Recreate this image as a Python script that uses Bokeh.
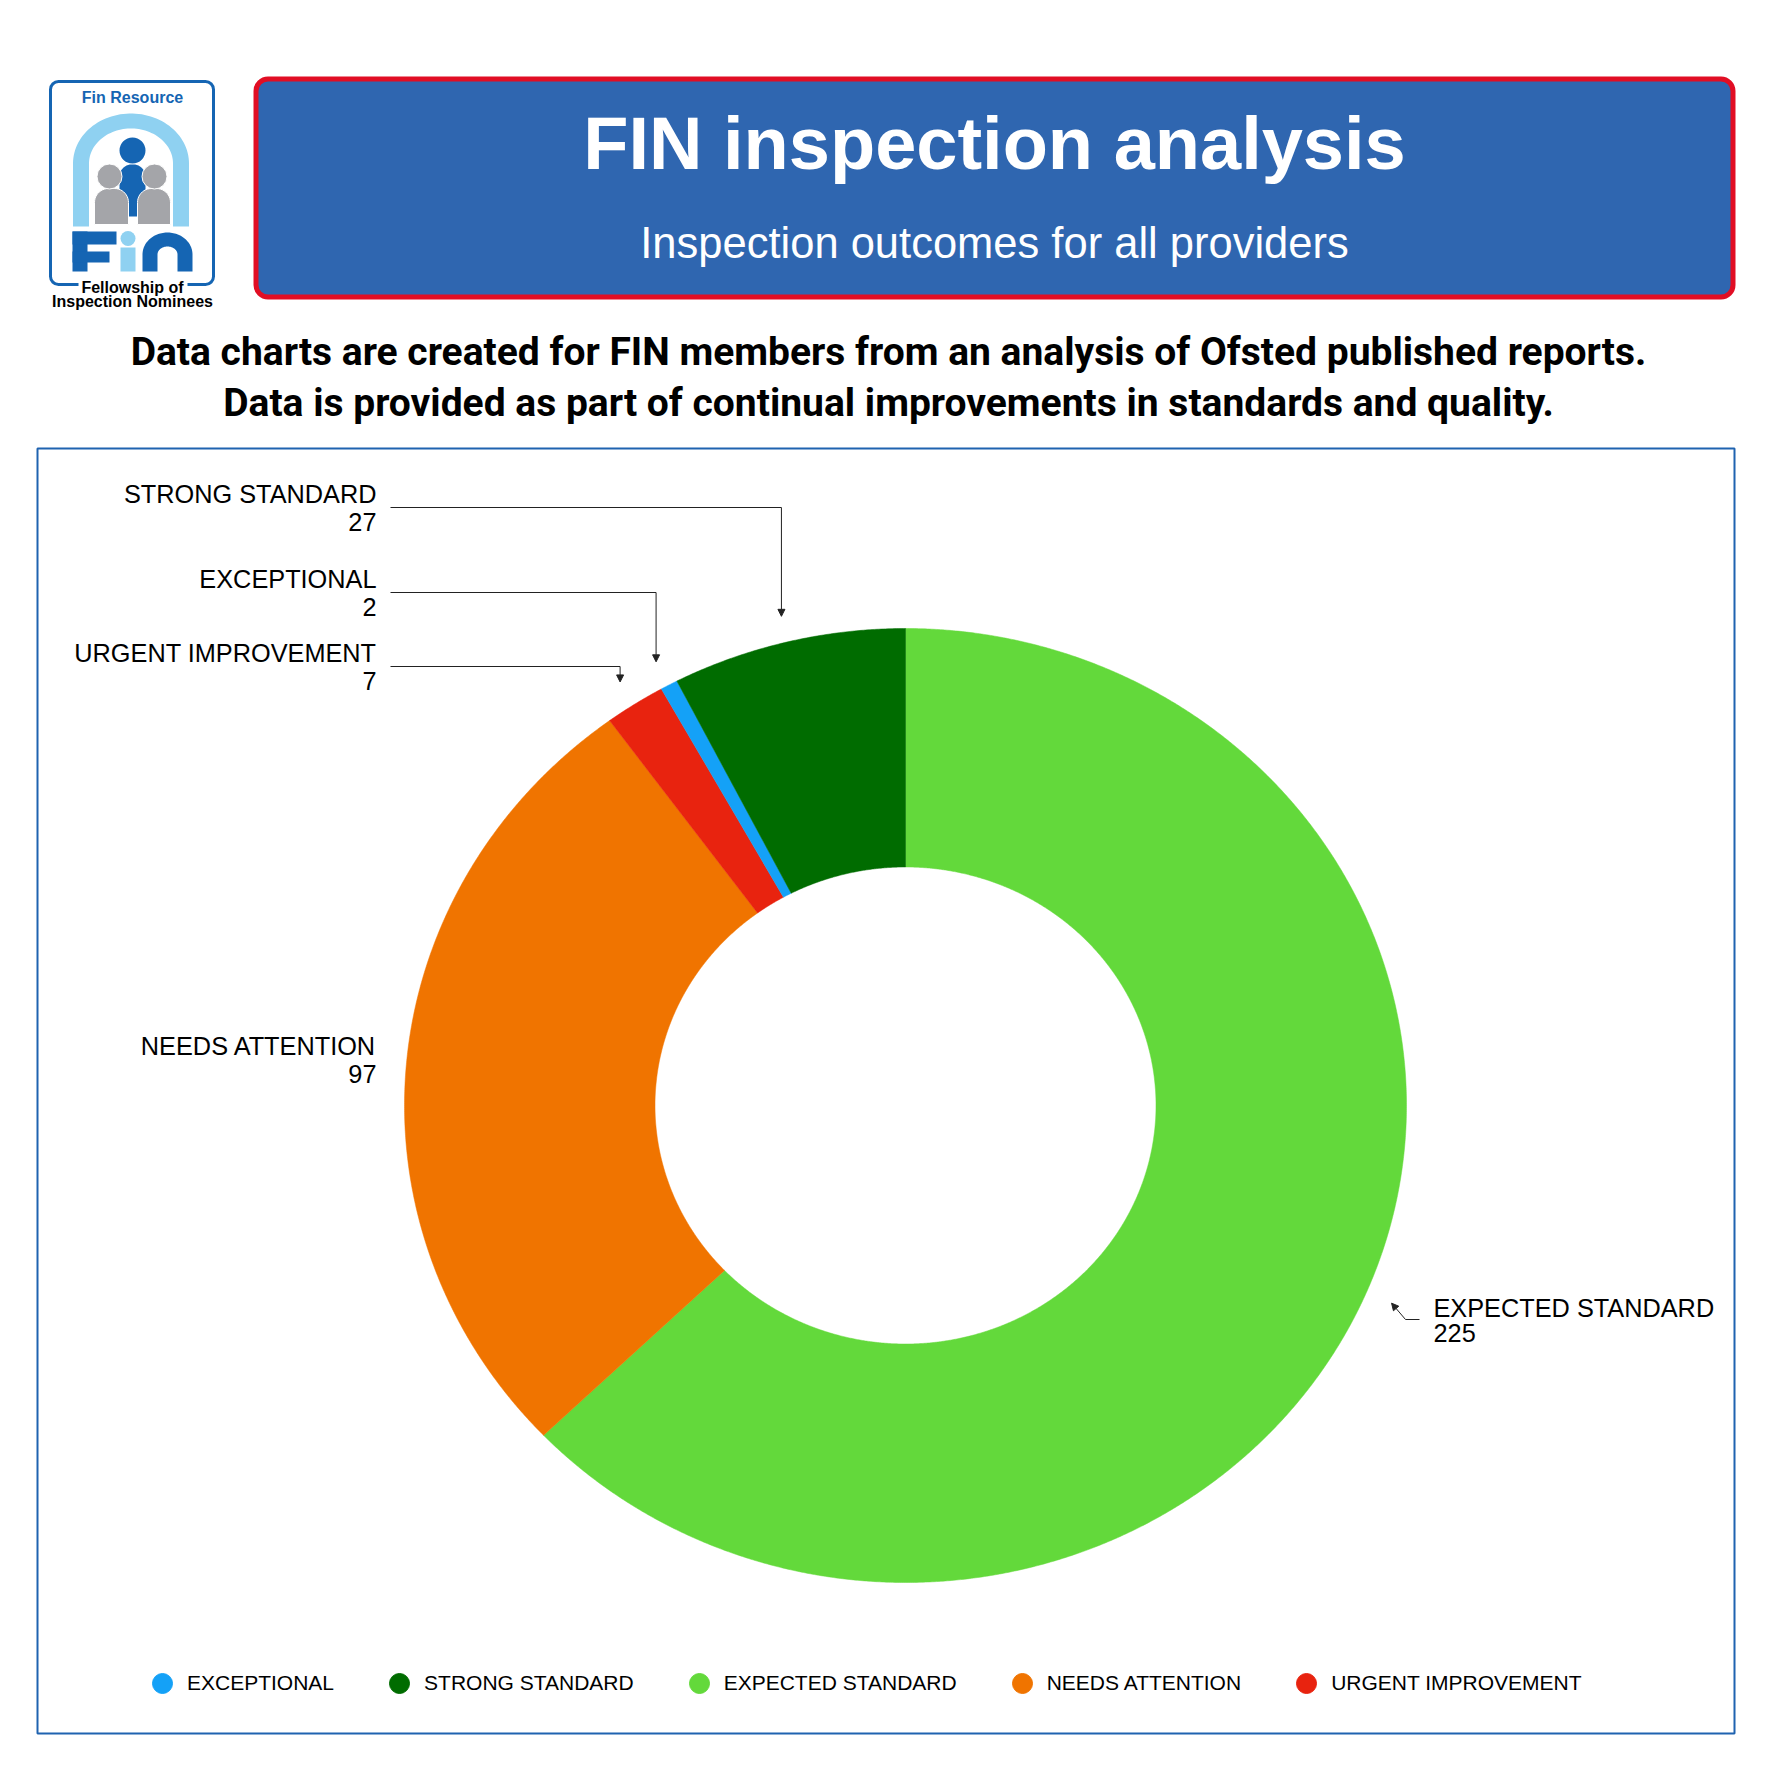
import numpy as np
from bokeh.plotting import figure
from bokeh.models import (Range1d, BoxAnnotation, Arrow, NormalHead, Legend,
                          LegendItem, ColumnDataSource)
from bokeh.core.properties import value
from bokeh.embed import file_html
from bokeh.resources import INLINE

# ---------------- data ----------------
categories = ["EXCEPTIONAL", "STRONG STANDARD", "EXPECTED STANDARD",
              "NEEDS ATTENTION", "URGENT IMPROVEMENT"]
counts = [2, 27, 225, 97, 7]
colors = ["#14a1f7", "#006c00", "#63d93b", "#f07400", "#e8230f"]
# clockwise from 12 o'clock
pie_order = ["EXPECTED STANDARD", "NEEDS ATTENTION", "URGENT IMPROVEMENT",
             "EXCEPTIONAL", "STRONG STANDARD"]

title = "FIN inspection analysis"
subtitle = "Inspection outcomes for all providers"
intro_lines = [
    "Data charts are created for FIN members from an analysis of Ofsted published reports.",
    "Data is provided as part of continual improvements in standards and quality.",
]

# ---------------- layout (page pixels) ----------------
W = H = 1756
CX, CY = 905, 1105          # donut centre
RX, RY = 501, 477           # outer radii (slightly stretched)
HOLE = 0.5
TIP = 1.055                 # arrow tip distance (x radius)
LEFT_LABEL_X = 376
RIGHT_LABEL_X = 1433
label_layout = {            # side, y of label middle, has leader
    "STRONG STANDARD": ("left", 507, True),
    "EXCEPTIONAL": ("left", 592, True),
    "URGENT IMPROVEMENT": ("left", 666, True),
    "NEEDS ATTENTION": ("left", 1059, False),
    "EXPECTED STANDARD": ("right", 1319, True),
}
LABEL_FONT = value("Liberation Sans")

p = figure(width=W, height=H, x_range=Range1d(0, W), y_range=Range1d(H, 0),
           output_backend="svg", toolbar_location=None, min_border=0,
           x_axis_location=None, y_axis_location=None, outline_line_color=None,
           background_fill_color="white", border_fill_color="white")
p.grid.visible = False

# ---------------- header ----------------
p.add_layout(BoxAnnotation(left=255.5, right=1732.5, top=78.5, bottom=296.5,
                           fill_color="#2f66b0", fill_alpha=1, line_color="#e10e24",
                           line_alpha=1, line_width=5, border_radius=12,
                           level="underlay"))
p.text(x=[994], y=[143], text=[title], text_font=value("Liberation Sans"),
       text_font_style="bold", text_font_size="74px", text_color="white",
       text_align="center", text_baseline="middle")
p.text(x=[994], y=[242], text=[subtitle], text_font=value("Liberation Sans"),
       text_font_size="43.5px", text_color="white",
       text_align="center", text_baseline="middle")

p.text(x=[888, 888], y=[351, 402], text=intro_lines, text_font=value("Roboto"),
       text_font_style="bold", text_font_size="39px", text_color="black",
       text_align="center", text_baseline="middle")

# ---------------- logo ----------------
def arch(cx, rx_o, ry_o, rx_i, ry_i, cy, bottom):
    t = np.linspace(np.pi, 0, 60)
    ox = cx + rx_o * np.cos(t); oy = cy - ry_o * np.sin(t)
    ix = cx + rx_i * np.cos(t[::-1]); iy = cy - ry_i * np.sin(t[::-1])
    xs = [cx - rx_o] + list(ox) + [cx + rx_o, cx + rx_i] + list(ix) + [cx - rx_i]
    ys = [bottom] + list(oy) + [bottom, bottom] + list(iy) + [bottom]
    return xs, ys

def rounded_top(x0, x1, y0, y1, r):
    t = np.linspace(np.pi, np.pi / 2, 12)
    t2 = np.linspace(np.pi / 2, 0, 12)
    xs = [x0] + list(x0 + r + r * np.cos(t)) + list(x1 - r + r * np.cos(t2)) + [x1]
    ys = [y1] + list(y0 + r - r * np.sin(t)) + list(y0 + r - r * np.sin(t2)) + [y1]
    return xs, ys

LOGO_BLUE, LOGO_LIGHT, LOGO_GREY = "#1565b3", "#8fd1f1", "#a4a5a9"
p.add_layout(BoxAnnotation(left=50, right=213, top=81, bottom=284, fill_alpha=0,
                           line_color=LOGO_BLUE, line_alpha=1, line_width=3,
                           border_radius=8, level="underlay"))
ax, ay = arch(130.5, 58, 50, 42, 35, 163, 226)
p.patch(ax, ay, fill_color=LOGO_LIGHT, line_color=None)
bx, by = rounded_top(119, 145, 164, 216, 12)
p.patch(bx, by, fill_color=LOGO_BLUE, line_color=None)
p.circle(x=[132], y=[150], radius=13, fill_color=LOGO_BLUE, line_color=None)
for gx0, gx1 in [(94, 128), (137, 170)]:
    gx, gy = rounded_top(gx0, gx1, 188, 224, 14)
    p.patch(gx, gy, fill_color=LOGO_GREY, line_color="white", line_width=1)
p.circle(x=[109, 154], y=[176, 176], radius=12.5, fill_color=LOGO_GREY,
         line_color="white", line_width=1)
# F i n lettering
p.quad(left=[72, 72, 72], right=[87, 116, 109], top=[231, 231, 251],
       bottom=[271, 244, 262], fill_color=LOGO_BLUE, line_color=None)
p.quad(left=[120], right=[135], top=[247], bottom=[271], fill_color=LOGO_LIGHT,
       line_color=None)
p.circle(x=[127.5], y=[238], radius=7.5, fill_color=LOGO_LIGHT, line_color=None)
nx, ny = arch(167, 25, 22, 10, 8, 254, 271)
p.patch(nx, ny, fill_color=LOGO_BLUE, line_color=None)
p.text(x=[132], y=[97], text=["Fin Resource"], text_font=value("Liberation Sans"),
       text_font_style="bold", text_font_size="16px", text_color=LOGO_BLUE,
       text_align="center", text_baseline="middle")
p.quad(left=[78], right=[187], top=[277], bottom=[292], fill_color="white", line_color=None)
p.text(x=[132, 132], y=[287, 301], text=["Fellowship of", "Inspection Nominees"],
       text_font=value("Liberation Sans"), text_font_style="bold",
       text_font_size="16px", text_color="black", text_align="center",
       text_baseline="middle")

# ---------------- chart frame ----------------
p.add_layout(BoxAnnotation(left=37, right=1734, top=448, bottom=1733, fill_alpha=0,
                           line_color="#1f63b0", line_alpha=1, line_width=2,
                           level="underlay"))

# ---------------- donut ----------------
idx = [categories.index(c) for c in pie_order]
vals = np.array([counts[i] for i in idx], dtype=float)
ends = np.cumsum(vals) / vals.sum() * 2 * np.pi
starts = ends - vals / vals.sum() * 2 * np.pi
mids = (starts + ends) / 2
xs, ys = [], []
for a0, a1 in zip(starts, ends):
    t = np.linspace(a0, a1, max(6, int((a1 - a0) / (2 * np.pi) * 1440)))
    ox = CX + RX * np.sin(t); oy = CY - RY * np.cos(t)
    ix = CX + HOLE * RX * np.sin(t[::-1]); iy = CY - HOLE * RY * np.cos(t[::-1])
    xs.append(list(np.concatenate([ox, ix])))
    ys.append(list(np.concatenate([oy, iy])))
slice_src = ColumnDataSource(dict(xs=xs, ys=ys, color=[colors[i] for i in idx],
                                  label=pie_order, count=vals))
p.patches("xs", "ys", source=slice_src, fill_color="color", line_color="color",
          line_width=0.5)

tip = {c: (CX + TIP * RX * np.sin(m), CY - TIP * RY * np.cos(m))
       for c, m in zip(pie_order, mids)}

# ---------------- labels & leaders ----------------
lx, ly, rx_, ry_ = [], [], [], []
ltxt, rtxt = [], []
seg_xs, seg_ys = [], []
arr = dict(x0=[], y0=[], x1=[], y1=[])
for c in pie_order:
    side, my, leader = label_layout[c]
    n = counts[categories.index(c)]
    tx, ty = tip[c]
    if side == "left":
        lx += [LEFT_LABEL_X] * 2; ly += [my - 14, my + 14]; ltxt += [c, str(n)]
        if leader:
            seg_xs.append([LEFT_LABEL_X + 14, tx]); seg_ys.append([my, my])
            arr["x0"].append(tx); arr["y0"].append(my)
            arr["x1"].append(tx); arr["y1"].append(ty)
    else:
        rx_ += [RIGHT_LABEL_X] * 2; ry_ += [my - 12, my + 13]; rtxt += [c, str(n)]
        if leader:
            seg_xs.append([RIGHT_LABEL_X - 14, RIGHT_LABEL_X - 28]); seg_ys.append([my, my])
            arr["x0"].append(RIGHT_LABEL_X - 28); arr["y0"].append(my)
            arr["x1"].append(tx); arr["y1"].append(ty)

p.text(x=lx, y=ly, text=ltxt, text_font=LABEL_FONT, text_font_size="25.3px",
       text_color="black", text_align="right", text_baseline="middle")
p.text(x=rx_, y=ry_, text=rtxt, text_font=LABEL_FONT, text_font_size="25.3px",
       text_color="black", text_align="left", text_baseline="middle")
p.multi_line(seg_xs, seg_ys, line_color="#222222", line_width=1)
p.add_layout(Arrow(end=NormalHead(size=7, fill_color="#222222", line_color="#222222",
                                  line_width=1),
                   x_start="x0", y_start="y0", x_end="x1", y_end="y1",
                   source=ColumnDataSource(arr), line_color="#222222", line_width=1))

# ---------------- legend ----------------
leg_src = ColumnDataSource(dict(x=[tip[c][0] for c in categories],
                                y=[tip[c][1] for c in categories],
                                color=colors, label=categories))
r_leg = p.scatter("x", "y", source=leg_src, size=0, fill_color="color",
                  line_color="color")
items = [LegendItem(label=c, renderers=[r_leg], index=i) for i, c in enumerate(categories)]
legend = Legend(items=items, orientation="horizontal", location=(137, 48),
                glyph_width=50, glyph_height=50, label_standoff=0, spacing=40,
                padding=0, margin=0, border_line_color=None, background_fill_alpha=0,
                label_text_font="Liberation Sans", label_text_font_size="21px",
                label_text_color="black")
p.add_layout(legend, "center")

open("out.html", "w").write(file_html(p, INLINE))
